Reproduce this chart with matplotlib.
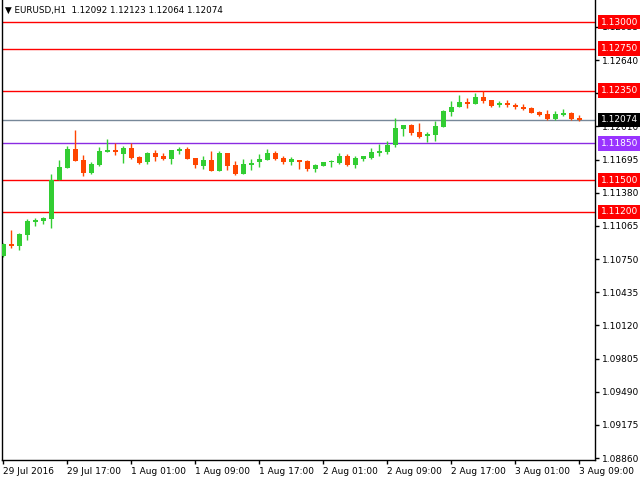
import numpy as np
import matplotlib
matplotlib.use('Agg')
from matplotlib import pyplot as plt
from matplotlib.transforms import blended_transform_factory

# hourly EURUSD bars, 29 Jul 09:00 .. 3 Aug 09:00
opens = [1.10780, 1.10896, 1.10875, 1.10979, 1.11103, 1.11112, 1.11131, 1.11499, 1.11618, 1.11796,
         1.11692, 1.11571, 1.11647, 1.11770, 1.11787, 1.11751, 1.11806, 1.11720, 1.11675, 1.11758,
         1.11730, 1.11701, 1.11777, 1.11796, 1.11711, 1.11635, 1.11692, 1.11587, 1.11758, 1.11644,
         1.11559, 1.11644, 1.11673, 1.11692, 1.11758, 1.11711, 1.11673, 1.11692, 1.11682, 1.11606,
         1.11635, 1.11670, 1.11663, 1.11730, 1.11644, 1.11701, 1.11711, 1.11758, 1.11768, 1.11834,
         1.11986, 1.12024, 1.11958, 1.11920, 1.11929, 1.12005, 1.12148, 1.12195, 1.12243, 1.12224,
         1.12290, 1.12261, 1.12214, 1.12233, 1.12214, 1.12195, 1.12186, 1.12148, 1.12129, 1.12081,
         1.12119, 1.12138, 1.12092]
highs = [1.10903, 1.11027, 1.10995, 1.11131, 1.11141, 1.11150, 1.11559, 1.11692, 1.11825, 1.11977,
         1.11739, 1.11673, 1.11815, 1.11891, 1.11850, 1.11825, 1.11850, 1.11730, 1.11768, 1.11787,
         1.11758, 1.11789, 1.11815, 1.11815, 1.11712, 1.11730, 1.11777, 1.11777, 1.11760, 1.11682,
         1.11701, 1.11701, 1.11749, 1.11796, 1.11777, 1.11730, 1.11720, 1.11694, 1.11692, 1.11654,
         1.11675, 1.11692, 1.11758, 1.11749, 1.11730, 1.11732, 1.11806, 1.11844, 1.11872, 1.12091,
         1.12026, 1.12034, 1.12043, 1.11958, 1.12062, 1.12167, 1.12252, 1.12309, 1.12281, 1.12328,
         1.12347, 1.12262, 1.12252, 1.12261, 1.12233, 1.12224, 1.12195, 1.12157, 1.12167, 1.12157,
         1.12176, 1.12148, 1.12123]
lows = [1.10770, 1.10858, 1.10837, 1.10932, 1.11065, 1.11084, 1.11046, 1.11497, 1.11616, 1.11683,
        1.11542, 1.11561, 1.11637, 1.11768, 1.11742, 1.11666, 1.11704, 1.11656, 1.11656, 1.11685,
        1.11692, 1.11656, 1.11749, 1.11699, 1.11618, 1.11609, 1.11585, 1.11585, 1.11597, 1.11549,
        1.11557, 1.11597, 1.11625, 1.11690, 1.11692, 1.11654, 1.11644, 1.11606, 1.11587, 1.11578,
        1.11633, 1.11625, 1.11654, 1.11635, 1.11615, 1.11682, 1.11701, 1.11730, 1.11749, 1.11815,
        1.11920, 1.11929, 1.11901, 1.11863, 1.11872, 1.12003, 1.12110, 1.12193, 1.12186, 1.12222,
        1.12233, 1.12193, 1.12193, 1.12193, 1.12176, 1.12167, 1.12136, 1.12110, 1.12072, 1.12072,
        1.12110, 1.12072, 1.12064]
closes = [1.10894, 1.10877, 1.10989, 1.11112, 1.11122, 1.11141, 1.11499, 1.11625, 1.11796, 1.11685,
          1.11571, 1.11654, 1.11777, 1.11787, 1.11770, 1.11806, 1.11713, 1.11666, 1.11758, 1.11723,
          1.11701, 1.11787, 1.11796, 1.11701, 1.11644, 1.11692, 1.11587, 1.11758, 1.11635, 1.11559,
          1.11654, 1.11666, 1.11701, 1.11758, 1.11701, 1.11673, 1.11701, 1.11673, 1.11606, 1.11644,
          1.11673, 1.11675, 1.11730, 1.11644, 1.11711, 1.11730, 1.11768, 1.11777, 1.11834, 1.11996,
          1.12024, 1.11948, 1.11910, 1.11939, 1.12015, 1.12157, 1.12195, 1.12243, 1.12224, 1.12290,
          1.12252, 1.12205, 1.12233, 1.12214, 1.12195, 1.12176, 1.12138, 1.12119, 1.12081, 1.12129,
          1.12138, 1.12081, 1.12074]

time_ticks = [0, 8, 16, 24, 32, 40, 48, 56, 64, 72]
time_labels = ['29 Jul 2016', '29 Jul 17:00', '1 Aug 01:00', '1 Aug 09:00', '1 Aug 17:00',
               '2 Aug 01:00', '2 Aug 09:00', '2 Aug 17:00', '3 Aug 01:00', '3 Aug 09:00']
price_ticks = [1.12955, 1.12640, 1.12325, 1.12010, 1.11695, 1.11380, 1.11065,
               1.10750, 1.10435, 1.10120, 1.09805, 1.09490, 1.09175, 1.08860]

level_prices = [1.13000, 1.12750, 1.12350, 1.11500, 1.11200]
level_labels = ['1.13000', '1.12750', '1.12350', '1.11500', '1.11200']
support_price = 1.11850
bid_price = 1.12074

o = np.array(opens); h = np.array(highs); l = np.array(lows); c = np.array(closes)
x = np.arange(len(o))
up = c >= o
cols = np.where(up, '#32CD32', '#FF4500')

fig = plt.figure(figsize=(6.4, 4.8), dpi=100)
ax = fig.add_axes([2/640, 20/480, 593/640, 460/480])

# horizontal levels
for p in level_prices:
    ax.axhline(p, color='#FF0000', lw=1, zorder=1)
ax.axhline(support_price, color='#8A2BE2', lw=1, zorder=1)
ax.axhline(bid_price, color='#778899', lw=1, zorder=1)

# candles
ax.vlines(x, l, h, colors=cols, lw=1, zorder=2)
body = np.maximum(np.abs(c - o), 0.00009)
ax.bar(x, body, bottom=np.minimum(o, c), width=0.625, color=cols, lw=0, zorder=3)

ax.set_xlim(-0.125, 74)
ax.set_ylim(1.088415, 1.132115)

ax.spines['top'].set_visible(False)
for s in ['left', 'bottom', 'right']:
    ax.spines[s].set_linewidth(1)
ax.yaxis.tick_right()
ax.set_yticks(price_ticks)
ax.set_yticklabels(['%.5f' % p for p in price_ticks])
ax.set_xticks(time_ticks)
ax.set_xticklabels(time_labels, ha='left')
ax.tick_params(axis='both', direction='out', length=3, width=1, labelsize=6.5, pad=2)
ax.tick_params(axis='x', pad=2)

tr = blended_transform_factory(ax.transAxes, ax.transData)
def tag(p, text, bg):
    ax.text(1.01, p, text, transform=tr, fontsize=6.5, color='white', va='center', ha='left',
            clip_on=False, zorder=5,
            bbox=dict(boxstyle='square,pad=0.3', fc=bg, ec='none'))

for p, t in zip(level_prices, level_labels):
    tag(p, t, '#FF0000')
tag(support_price, '1.11850', '#9933FF')
tag(bid_price, '1.12074', '#000000')

fig.text(5/640, 1 - 10/480, '\u25BC EURUSD,H1  1.12092 1.12123 1.12064 1.12074',
         fontsize=6.3, va='center', ha='left')

fig.savefig('out.png', dpi=100)
